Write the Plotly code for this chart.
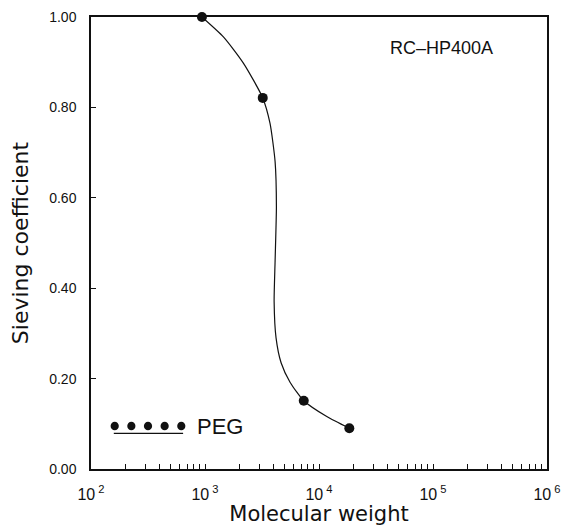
import plotly.graph_objects as go

# Measured data points (PEG, RC-HP400A)
mw_points = [940, 3210, 7350, 18450]
sc_points = [1.0, 0.821, 0.151, 0.090]

# Fitted curve
curve_mw = [940, 1450, 2170, 3210, 3715, 4120, 4230, 4120, 4040, 4200, 4650, 5570, 7350, 11700, 18450]
curve_sc = [1.0, 0.956, 0.898, 0.821, 0.765, 0.680, 0.580, 0.460, 0.370, 0.290, 0.235, 0.192, 0.151, 0.116, 0.090]

decades = [2, 3, 4, 5, 6]
y_ticks = [0.0, 0.2, 0.4, 0.6, 0.8, 1.0]

tickvals = []
ticktext = []
for d in decades:
    for m in range(1, 10):
        if d == 6 and m > 1:
            break
        tickvals.append(m * 10 ** d)
        ticktext.append(f"10<sup> {d}</sup>" if m == 1 else "")

FONT = "Liberation Sans, Arial, sans-serif"
TFONT = "DejaVu Sans, sans-serif"
INK = "#111111"

fig = go.Figure()
fig.add_trace(go.Scatter(x=curve_mw, y=curve_sc, mode="lines",
                         line=dict(color=INK, width=1.2, shape="spline", smoothing=0.6),
                         hoverinfo="skip", showlegend=False))
fig.add_trace(go.Scatter(x=mw_points, y=sc_points, mode="markers",
                         marker=dict(color=INK, size=10), cliponaxis=False,
                         showlegend=False))

# Legend key: five dots with underline, then "PEG"
shapes = []
lx0, ly = 0.052, 0.095
for i in range(5):
    cx = lx0 + i * 0.0365
    shapes.append(dict(type="circle", xref="paper", yref="paper",
                       x0=cx - 0.009, x1=cx + 0.009, y0=ly - 0.0095, y1=ly + 0.0095,
                       fillcolor=INK, line=dict(color=INK, width=0)))
shapes.append(dict(type="line", xref="paper", yref="paper",
                   x0=lx0 - 0.002, x1=lx0 + 4 * 0.0365 + 0.004, y0=ly - 0.016, y1=ly - 0.016,
                   line=dict(color=INK, width=1.2)))

# The page adds an 8px body margin, so the figure is sized/offset to compensate.
fig.update_layout(
    width=570, height=518,
    margin=dict(l=83, r=31, t=9, b=57),
    paper_bgcolor="white", plot_bgcolor="white",
    font=dict(family=FONT, color=INK),
    shapes=shapes,
    annotations=[
        dict(text="PEG", xref="paper", yref="paper", x=0.228, y=0.095, xanchor="left",
             yanchor="middle", showarrow=False, font=dict(size=22, color=INK, family=FONT)),
        dict(text="RC\u2013HP400A", xref="paper", yref="paper", x=0.768, y=0.931,
             xanchor="center", yanchor="middle", showarrow=False,
             font=dict(size=18, color=INK, family=FONT)),
    ],
    xaxis=dict(type="log", range=[2, 6], tickvals=tickvals, ticktext=ticktext,
               ticks="inside", ticklen=5, tickwidth=1, tickcolor=INK,
               showline=True, linecolor=INK, linewidth=1.5, mirror=True,
               showgrid=False, zeroline=False, automargin=False, ticklabelstandoff=10,
               tickfont=dict(size=16, color=INK, family=FONT),
               title=dict(text="Molecular weight",
                          font=dict(size=21, color=INK, family=TFONT),
                          standoff=3)),
    yaxis=dict(range=[0, 1], tickvals=y_ticks, tickformat=".2f",
               ticks="inside", ticklen=5, tickwidth=1, tickcolor=INK,
               showline=True, linecolor=INK, linewidth=1.5, mirror=True,
               showgrid=False, zeroline=False, ticklabelstandoff=10, automargin=False,
               tickfont=dict(size=14, color=INK, family=FONT),
               title=dict(text="Sieving coefficient",
                          font=dict(size=22, color=INK, family=TFONT),
                          standoff=18)),
)

fig.write_html("out.html")
